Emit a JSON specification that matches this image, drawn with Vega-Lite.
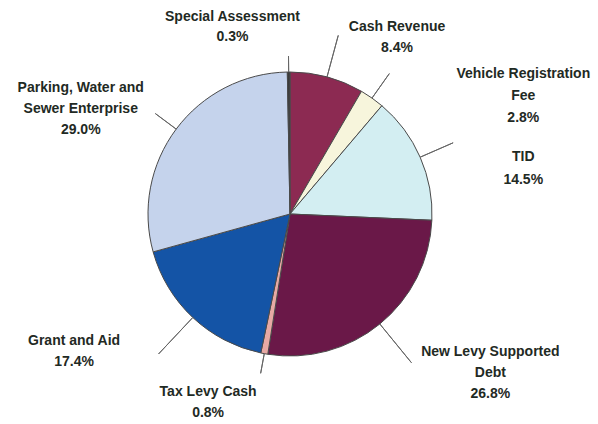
{
  "$schema": "https://vega.github.io/schema/vega-lite/v6.json",
  "width": 580,
  "height": 420,
  "autosize": "none",
  "padding": {"left": 0, "top": 4, "right": 18, "bottom": 0},
  "background": "white",
  "view": {"stroke": null},
  "data": {
    "values": [
      {"name": "Cash Revenue", "label": "Cash Revenue\n8.4%", "value": 8.4, "rank": 1},
      {"name": "Vehicle Registration Fee", "label": "Vehicle Registration\nFee\n2.8%", "value": 2.8, "rank": 2},
      {"name": "TID", "label": "TID\n14.5%", "value": 14.5, "rank": 3},
      {"name": "New Levy Supported Debt", "label": "New Levy Supported\nDebt\n26.8%", "value": 26.8, "rank": 4},
      {"name": "Tax Levy Cash", "label": "Tax Levy Cash\n0.8%", "value": 0.8, "rank": 5},
      {"name": "Grant and Aid", "label": "Grant and Aid\n17.4%", "value": 17.4, "rank": 6},
      {"name": "Parking, Water and Sewer Enterprise", "label": "Parking, Water and\nSewer Enterprise\n29.0%", "value": 29.0, "rank": 7},
      {"name": "Special Assessment", "label": "Special Assessment\n0.3%", "value": 0.3, "rank": 8}
    ]
  },
  "encoding": {
    "theta": {"field": "value", "type": "quantitative", "stack": true},
    "order": {"field": "rank", "type": "quantitative"}
  },
  "layer": [
    {
      "mark": {"type": "arc", "radius": 142, "stroke": "#4a4a4a", "strokeWidth": 1},
      "encoding": {
        "color": {
          "field": "name",
          "type": "nominal",
          "legend": null,
          "scale": {
            "domain": ["Cash Revenue", "Vehicle Registration Fee", "TID", "New Levy Supported Debt", "Tax Levy Cash", "Grant and Aid", "Parking, Water and Sewer Enterprise", "Special Assessment"],
            "range": ["#8c2a52", "#f7f5dc", "#d3eef2", "#6a1848", "#e7a9a4", "#1454a6", "#c5d3ec", "#3a3a3a"]
          }
        }
      }
    },
    {
      "mark": {"type": "arc", "radius": 185, "radius2": 142, "padAngle": 3, "fill": null, "stroke": "#666666", "strokeWidth": 1},
      "encoding": {"strokeOpacity": {"condition": {"test": "datum.name === 'Cash Revenue'", "value": 1}, "value": 0}}
    },
    {
      "mark": {"type": "arc", "radius": 172, "radius2": 142, "padAngle": 3, "fill": null, "stroke": "#666666", "strokeWidth": 1},
      "encoding": {"strokeOpacity": {"condition": {"test": "datum.name === 'Vehicle Registration Fee'", "value": 1}, "value": 0}}
    },
    {
      "mark": {"type": "arc", "radius": 178, "radius2": 142, "padAngle": 3, "fill": null, "stroke": "#666666", "strokeWidth": 1},
      "encoding": {"strokeOpacity": {"condition": {"test": "datum.name === 'TID'", "value": 1}, "value": 0}}
    },
    {
      "mark": {"type": "arc", "radius": 192, "radius2": 142, "padAngle": 3, "fill": null, "stroke": "#666666", "strokeWidth": 1},
      "encoding": {"strokeOpacity": {"condition": {"test": "datum.name === 'New Levy Supported Debt'", "value": 1}, "value": 0}}
    },
    {
      "mark": {"type": "arc", "radius": 162, "radius2": 142, "padAngle": 3, "fill": null, "stroke": "#666666", "strokeWidth": 1},
      "encoding": {"strokeOpacity": {"condition": {"test": "datum.name === 'Tax Levy Cash'", "value": 1}, "value": 0}}
    },
    {
      "mark": {"type": "arc", "radius": 192, "radius2": 142, "padAngle": 3, "fill": null, "stroke": "#666666", "strokeWidth": 1},
      "encoding": {"strokeOpacity": {"condition": {"test": "datum.name === 'Grant and Aid'", "value": 1}, "value": 0}}
    },
    {
      "mark": {"type": "arc", "radius": 168, "radius2": 142, "padAngle": 3, "fill": null, "stroke": "#666666", "strokeWidth": 1},
      "encoding": {"strokeOpacity": {"condition": {"test": "datum.name === 'Parking, Water and Sewer Enterprise'", "value": 1}, "value": 0}}
    },
    {
      "mark": {"type": "arc", "radius": 158, "radius2": 142, "padAngle": 3, "fill": null, "stroke": "#666666", "strokeWidth": 1},
      "encoding": {"strokeOpacity": {"condition": {"test": "datum.name === 'Special Assessment'", "value": 1}, "value": 0}}
    },
    {
      "mark": {"type": "text", "radius": 165, "dx": 64, "dy": -28, "font": "Liberation Sans", "fontSize": 14, "fontWeight": "bold", "lineBreak": "\n", "lineHeight": 21, "align": "center", "baseline": "middle", "fill": "#1f2a24"},
      "encoding": {"text": {"condition": {"test": "datum.name === 'Cash Revenue'", "field": "label"}, "value": ""}}
    },
    {
      "mark": {"type": "text", "radius": 165, "dx": 138, "dy": -5, "font": "Liberation Sans", "fontSize": 14, "fontWeight": "bold", "lineBreak": "\n", "lineHeight": 22, "align": "center", "baseline": "middle", "fill": "#1f2a24"},
      "encoding": {"text": {"condition": {"test": "datum.name === 'Vehicle Registration Fee'", "field": "label"}, "value": ""}}
    },
    {
      "mark": {"type": "text", "radius": 165, "dx": 82, "dy": 9, "font": "Liberation Sans", "fontSize": 14, "fontWeight": "bold", "lineBreak": "\n", "lineHeight": 23, "align": "center", "baseline": "middle", "fill": "#1f2a24"},
      "encoding": {"text": {"condition": {"test": "datum.name === 'TID'", "field": "label"}, "value": ""}}
    },
    {
      "mark": {"type": "text", "radius": 165, "dx": 96, "dy": 10, "font": "Liberation Sans", "fontSize": 14, "fontWeight": "bold", "lineBreak": "\n", "lineHeight": 21, "align": "center", "baseline": "middle", "fill": "#1f2a24"},
      "encoding": {"text": {"condition": {"test": "datum.name === 'New Levy Supported Debt'", "field": "label"}, "value": ""}}
    },
    {
      "mark": {"type": "text", "radius": 165, "dx": -52, "dy": 16, "font": "Liberation Sans", "fontSize": 14, "fontWeight": "bold", "lineBreak": "\n", "lineHeight": 21, "align": "center", "baseline": "middle", "fill": "#1f2a24"},
      "encoding": {"text": {"condition": {"test": "datum.name === 'Tax Levy Cash'", "field": "label"}, "value": ""}}
    },
    {
      "mark": {"type": "text", "radius": 165, "dx": -103, "dy": 7, "font": "Liberation Sans", "fontSize": 14, "fontWeight": "bold", "lineBreak": "\n", "lineHeight": 21, "align": "center", "baseline": "middle", "fill": "#1f2a24"},
      "encoding": {"text": {"condition": {"test": "datum.name === 'Grant and Aid'", "field": "label"}, "value": ""}}
    },
    {
      "mark": {"type": "text", "radius": 165, "dx": -77, "dy": -27, "font": "Liberation Sans", "fontSize": 14, "fontWeight": "bold", "lineBreak": "\n", "lineHeight": 21, "align": "center", "baseline": "middle", "fill": "#1f2a24"},
      "encoding": {"text": {"condition": {"test": "datum.name === 'Parking, Water and Sewer Enterprise'", "field": "label"}, "value": ""}}
    },
    {
      "mark": {"type": "text", "radius": 165, "dx": -56, "dy": -32, "font": "Liberation Sans", "fontSize": 14, "fontWeight": "bold", "lineBreak": "\n", "lineHeight": 20, "align": "center", "baseline": "middle", "fill": "#1f2a24"},
      "encoding": {"text": {"condition": {"test": "datum.name === 'Special Assessment'", "field": "label"}, "value": ""}}
    }
  ]
}
